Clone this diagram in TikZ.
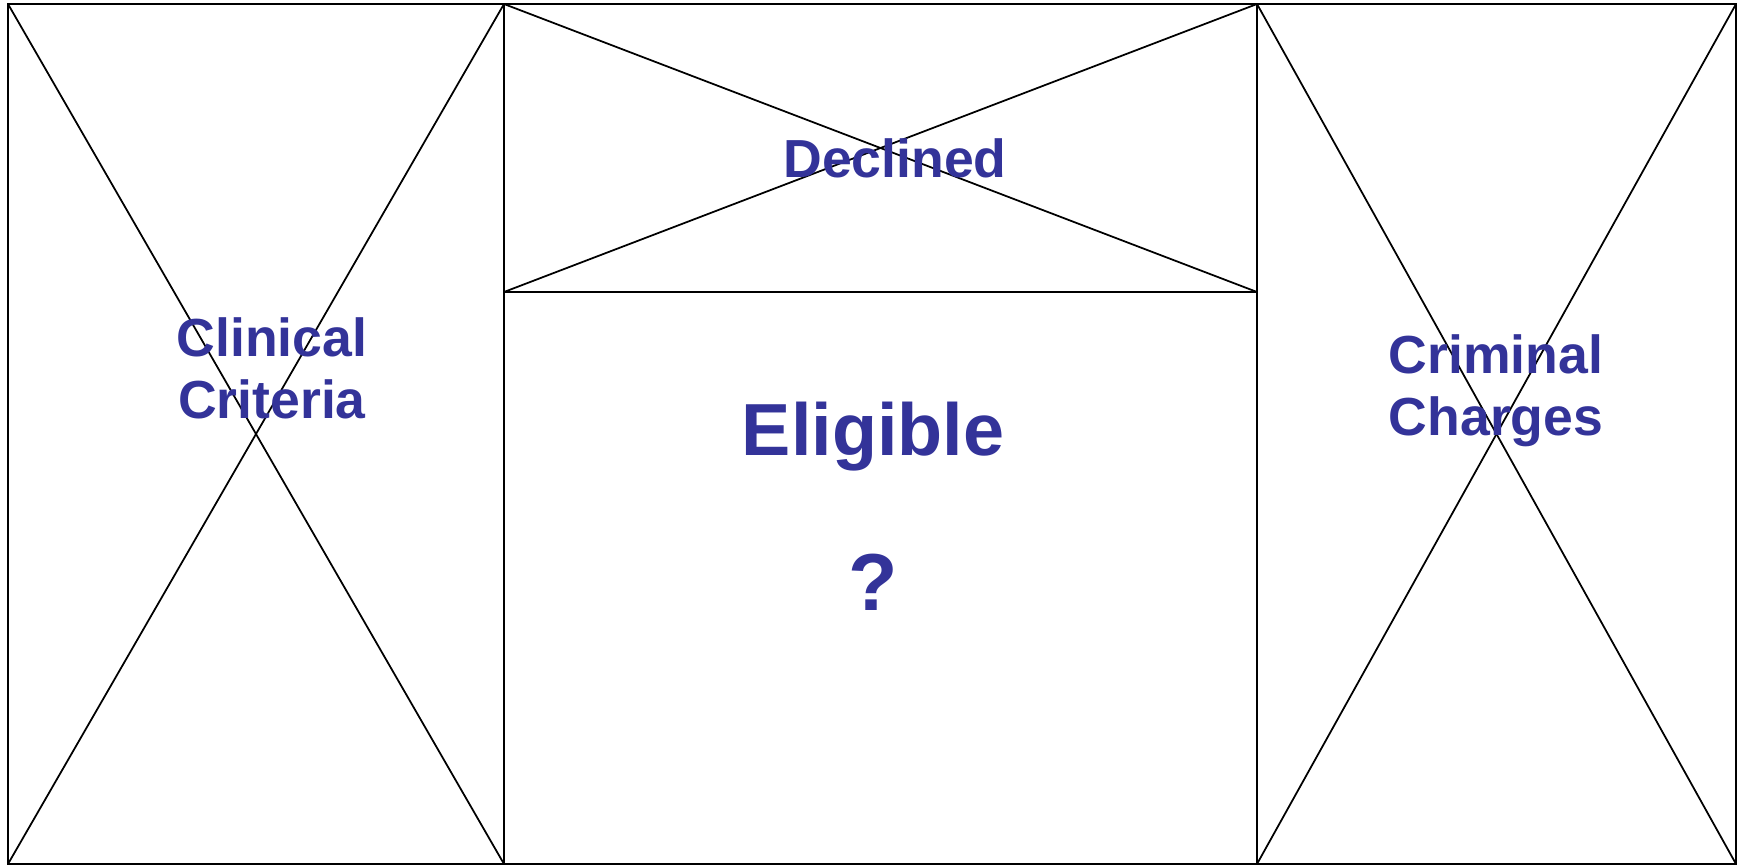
\documentclass[tikz,border=0pt]{standalone}
\usepackage{fontspec}
\setmainfont{Liberation Sans}
\definecolor{labelblue}{RGB}{51,51,153}
\tikzset{
  panel/.style={draw=black, line width=1.1pt},
  cross/.style={draw=black, line width=1pt},
  lab/.style={font=\bfseries\fontsize{30.5}{35}\selectfont, text=labelblue, align=center, anchor=base, inner sep=0pt},
  biglab/.style={font=\bfseries\fontsize{42}{48}\selectfont, text=labelblue, anchor=base, inner sep=0pt}
}
\begin{document}
\begin{tikzpicture}[x=0.02cm, y=-0.02cm]
  \useasboundingbox (0,0) rectangle (1744,866);
  % Panel corners
  \coordinate (tl) at (8,4);
  \coordinate (bl) at (8,864);
  \coordinate (ml) at (504,4);
  \coordinate (mlb) at (504,864);
  \coordinate (mlm) at (504,292);
  \coordinate (mr) at (1257,4);
  \coordinate (mrb) at (1257,864);
  \coordinate (mrm) at (1257,292);
  \coordinate (tr) at (1736,4);
  \coordinate (br) at (1736,864);
  % Crosses
  \foreach \a/\b in {tl/mlb, ml/bl, ml/mrm, mr/mlm, mr/br, tr/mrb} {
    \draw[cross] (\a) -- (\b);
  }
  % Panels
  \draw[panel] (tl) rectangle (br);
  \draw[panel] (ml) -- (mlb);
  \draw[panel] (mr) -- (mrb);
  \draw[panel] (mlm) -- (mrm);
  % Labels (base = last line)
  \node[lab] (clinical) at (272,418) {Clinical\\Criteria};
  \node[lab] (declined) at (895,177) {Declined};
  \node[lab] (criminal) at (1496,435) {Criminal\\Charges};
  \node[biglab] (eligible) at (873,455) {Eligible};
  \node[biglab, font=\bfseries\fontsize{46}{50}\selectfont] (query) at (873,610) {?};
\end{tikzpicture}
\end{document}
